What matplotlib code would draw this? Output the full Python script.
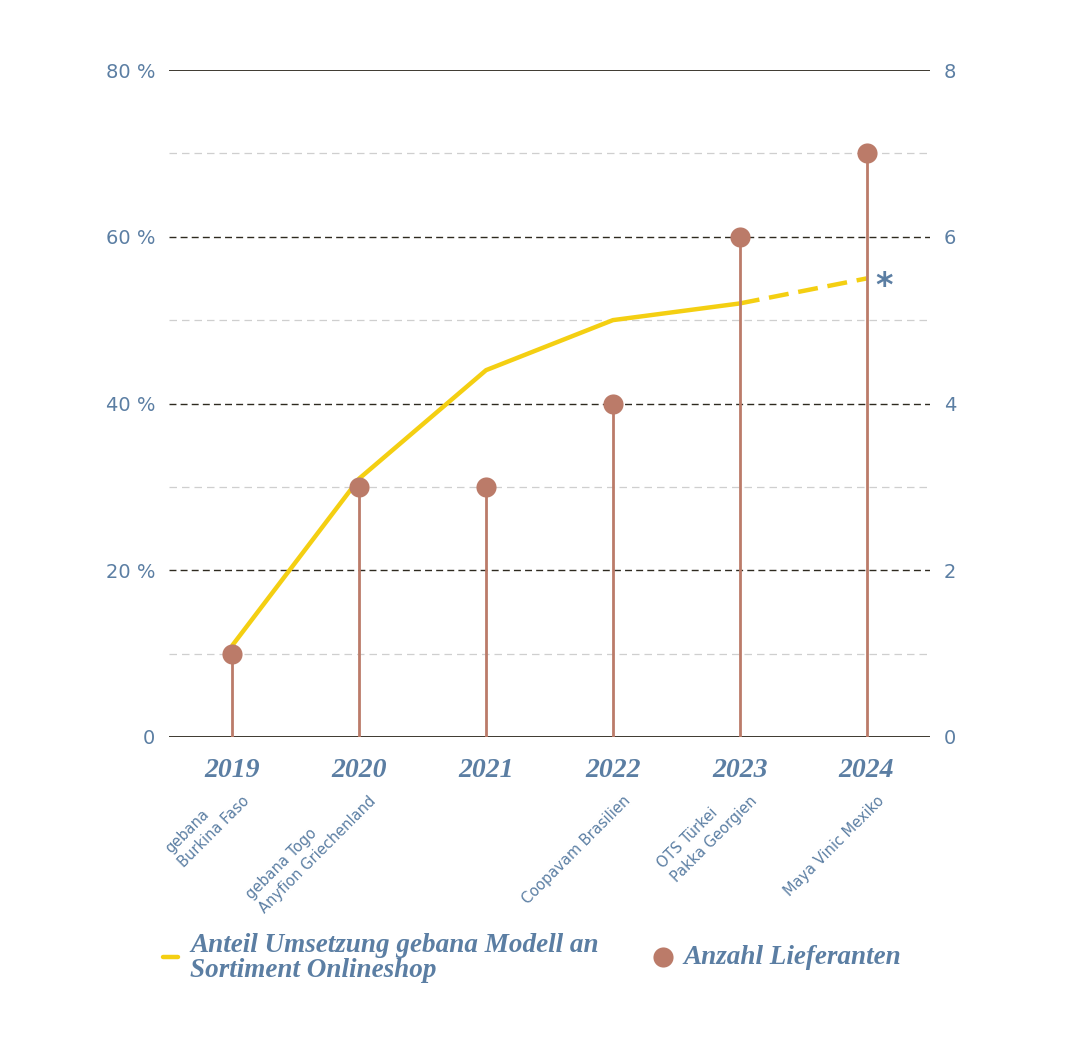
import matplotlib
matplotlib.use("Agg")
import matplotlib.pyplot as plt

years = ["2019", "2020", "2021", "2022", "2023", "2024"]
share_pct = [11, 31, 44, 50, 52, 55]
suppliers = [1, 3, 3, 4, 6, 7]
supplier_names = ["gebana\nBurkina Faso", "gebana Togo\nAnyfion Griechenland", "",
                  "Coopavam Brasilien", "OTS Türkei\nPakka Georgien", "Maya Vinic Mexiko"]
left_ticks = [0, 20, 40, 60, 80]
left_labels = ["0", "20 %", "40 %", "60 %", "80 %"]
right_ticks = [0, 2, 4, 6, 8]

BLUE = "#5b7ea3"
YELLOW = "#f4cf12"
BROWN = "#bb7b69"
DARK = "#2e2a20"
GREY = "#cfcfcf"

fig = plt.figure(figsize=(10.8, 10.5), dpi=100)
ax = fig.add_axes([169/1080, 1-737/1050, (930-169)/1080, (737-70)/1050])
ax2 = ax.twinx()

x = list(range(len(years)))
ax.set_xlim(-0.5, len(years) - 0.5)
ax.set_ylim(0, 80)
ax2.set_ylim(0, 8)

for s in list(ax.spines.values()) + list(ax2.spines.values()):
    s.set_visible(False)

# grid lines
for v in [10, 30, 50, 70]:
    ax.axhline(v, color=GREY, lw=0.9, ls=(0, (6, 4)), zorder=1)
for v in [20, 40, 60]:
    ax.axhline(v, color=DARK, lw=1.0, ls=(0, (5, 3)), zorder=1)
for v in [0, 80]:
    ax.axhline(v, color=DARK, lw=1.3, zorder=2)

# yellow line: solid up to 2023, dashed to 2024
ax.plot(x[:5], share_pct[:5], color=YELLOW, lw=3.2, solid_capstyle="round", zorder=3)
ax.plot(x[4:], share_pct[4:], color=YELLOW, lw=3.2, ls=(0, (4.5, 2.2)), zorder=3)
ax.annotate("*", xy=(x[-1], share_pct[-1]), xytext=(6, -6), textcoords="offset points",
            color=BLUE, fontsize=24, fontweight="bold", ha="left", va="center",
            family="DejaVu Sans")

# stems and dots on right axis
ax2.vlines(x, 0, suppliers, color=BROWN, lw=2.0, zorder=4)
ax2.plot(x, suppliers, "o", color=BROWN, ms=14.5, mec="none", zorder=5)

ax.set_yticks(left_ticks)
ax.set_yticklabels(left_labels)
ax2.set_yticks(right_ticks)
ax.tick_params(axis="y", length=0, pad=10, labelcolor=BLUE, labelsize=14)
ax2.tick_params(axis="y", length=0, pad=10, labelcolor=BLUE, labelsize=14)
ax.set_xticks([])
ax2.set_zorder(ax.get_zorder() + 1)
ax2.patch.set_visible(False)

# year labels
for xi, yr in zip(x, years):
    ax.annotate(yr, xy=(xi, 0), xycoords=("data", "axes fraction"), xytext=(0, -24),
                textcoords="offset points", ha="center", va="center",
                fontsize=20, fontweight="bold", fontstyle="italic",
                family="Liberation Serif", color=BLUE)

# supplier names rotated
for xi, nm in zip(x, supplier_names):
    if not nm:
        continue
    ax.annotate(nm, xy=(xi, 0), xycoords=("data", "axes fraction"), xytext=(14.5, -48),
                textcoords="offset points", ha="right", va="bottom", rotation=45,
                rotation_mode="anchor", multialignment="left",
                fontsize=10.5, color=BLUE, linespacing=1.35)

# legend
fig.add_artist(plt.Line2D([163/1080, 178/1080], [1-957/1050]*2, color=YELLOW, lw=3.2,
                          solid_capstyle="round"))
fig.text(190/1080, 1-958/1050, "Anteil Umsetzung gebana Modell an\nSortiment Onlineshop",
         ha="left", va="center", fontsize=19.5, fontweight="bold", fontstyle="italic",
         family="Liberation Serif", color=BLUE, linespacing=1.02)
fig.add_artist(plt.Line2D([663/1080], [1-957/1050], marker="o", ms=14.5, color=BROWN,
                          mec="none", ls="none"))
fig.text(683/1080, 1-958/1050, "Anzahl Lieferanten", ha="left", va="center",
         fontsize=19.5, fontweight="bold", fontstyle="italic",
         family="Liberation Serif", color=BLUE)

fig.savefig("out.png", dpi=100, facecolor="white")
